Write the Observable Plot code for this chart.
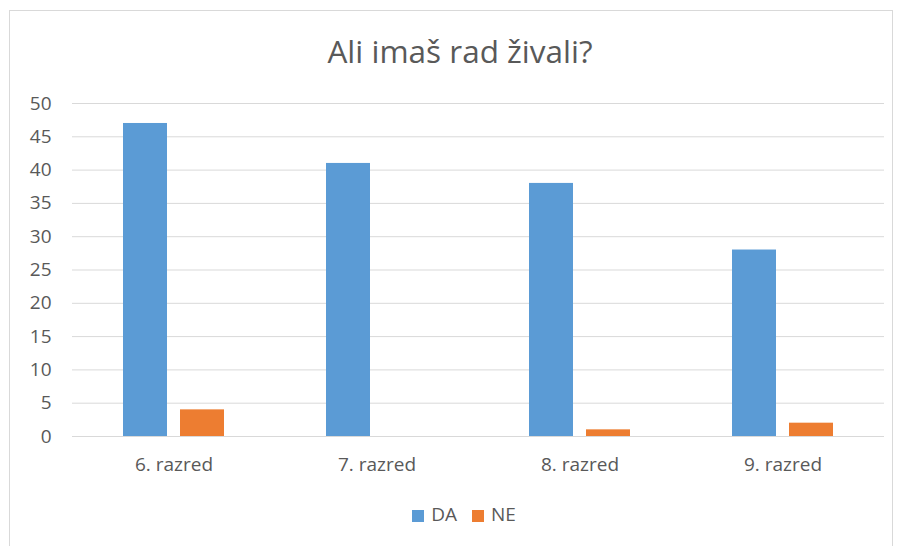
<!DOCTYPE html>
<html>
<head>
<meta charset="utf-8">
<script src="https://cdn.jsdelivr.net/npm/d3@7"></script>
<script src="https://cdn.jsdelivr.net/npm/@observablehq/plot@0.6"></script>
<style>
  html, body { margin: 0; padding: 0; background: #fff; }
  body { width: 900px; height: 546px; position: relative; overflow: hidden; font-family: "Open Sans", sans-serif; color: #595959; }
  #frame { position: absolute; left: 9px; top: 10px; width: 884px; height: 560px; border: 1px solid #d9d9d9; box-sizing: border-box; }
  #title { position: absolute; left: 10px; top: 29px; width: 900px; text-align: center; font-size: 31.5px; line-height: 43px; color: #595959; }
  #chart { position: absolute; left: 0; top: 0; }
  #chart svg text { font-size: 19px !important; fill: #595959; }
  #legend { position: absolute; left: 14px; top: 501px; width: 900px; display: flex; justify-content: center; gap: 15px; font-size: 19px; line-height: 26px; color: #595959; }
  .item { display: flex; align-items: center; gap: 7px; }
  .sw { width: 12px; height: 12px; display: inline-block; margin-top: 3px; }
</style>
</head>
<body>
<div id="frame"></div>
<div id="title">Ali imaš rad živali?</div>
<div id="chart"></div>
<div id="legend"></div>
<script>
const categories = ["6. razred", "7. razred", "8. razred", "9. razred"];
const series = ["DA", "NE"];
const daValues = [47, 41, 38, 28];
const neValues = [4, 0, 1, 2];
const colors = ["#5B9BD5", "#ED7D31"];
const yTicks = [0, 5, 10, 15, 20, 25, 30, 35, 40, 45, 50];

const data = [];
categories.forEach((c, i) => {
  data.push({category: c, series: "DA", value: daValues[i]});
  data.push({category: c, series: "NE", value: neValues[i]});
});

const chart = Plot.plot({
  width: 900,
  height: 490,
  marginTop: 103,
  marginBottom: 54,
  marginLeft: 70,
  marginRight: 15,
  style: {fontFamily: "'Open Sans', sans-serif", fontSize: "19px", color: "#595959", background: "transparent"},
  fx: {domain: categories, padding: 0, label: null},
  x: {domain: series, paddingInner: 0.224, paddingOuter: 0.87, axis: null},
  y: {domain: [0, 50], label: null},
  color: {domain: series, range: colors},
  marks: [
    Plot.gridY(yTicks, {stroke: "#d9d9d9", strokeOpacity: 1, strokeWidth: 1}),
    Plot.axisY(yTicks, {tickSize: 0, tickPadding: 21, fontSize: 19, fill: "#595959", label: null, tickFormat: d => String(d)}),
    Plot.axisFx({anchor: "bottom", tickSize: 0, tickPadding: 21, fontSize: 19, fill: "#595959", label: null}),
    Plot.barY(data, {fx: "category", x: "series", y: "value", fill: "series"})
  ]
});
document.getElementById("chart").appendChild(chart);

const legend = document.getElementById("legend");
series.forEach((s, i) => {
  const item = document.createElement("div");
  item.className = "item";
  const sw = document.createElement("span");
  sw.className = "sw";
  sw.style.background = colors[i];
  const label = document.createElement("span");
  label.textContent = s;
  item.appendChild(sw);
  item.appendChild(label);
  legend.appendChild(item);
});
</script>
</body>
</html>
